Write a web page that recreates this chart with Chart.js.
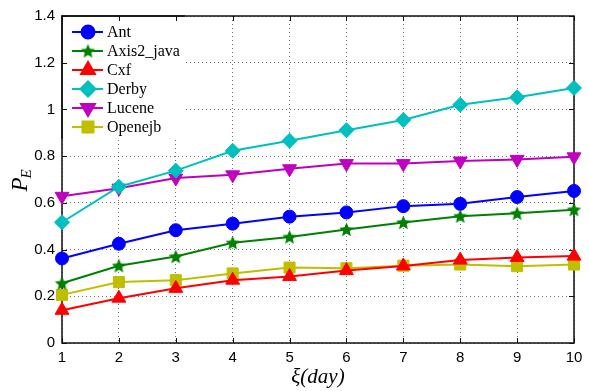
<!DOCTYPE html>
<html>
<head>
<meta charset="utf-8">
<script src="https://cdn.jsdelivr.net/npm/chart.js@4/dist/chart.umd.min.js"></script>
<style>
    html, body { margin: 0; padding: 0; background: #fff; }
    #wrap { width: 589px; height: 391px; }
</style>
</head>
<body>
<div id="wrap"><canvas id="myChartPE"></canvas></div>
<script>
// valores
const dias = [1, 2, 3, 4, 5, 6, 7, 8, 9, 10]
const ant = [0.362, 0.425, 0.483, 0.511, 0.541, 0.559, 0.586, 0.596, 0.625, 0.651]
const axis2 = [0.256, 0.331, 0.370, 0.429, 0.454, 0.486, 0.516, 0.543, 0.555, 0.571]
const cxf = [0.140, 0.192, 0.234, 0.269, 0.285, 0.310, 0.330, 0.355, 0.366, 0.372]
const derby = [0.517, 0.669, 0.738, 0.823, 0.866, 0.911, 0.955, 1.020, 1.052, 1.092]
const lucene = [0.628, 0.663, 0.706, 0.720, 0.746, 0.768, 0.768, 0.779, 0.786, 0.797]
const openejb = [0.206, 0.261, 0.269, 0.298, 0.323, 0.320, 0.331, 0.336, 0.329, 0.336]
const yTicks = [0, 0.2, 0.4, 0.6, 0.8, 1, 1.2, 1.4]

const toPoints = vals => vals.map((v, i) => ({x: dias[i], y: v}))

const makeStar = (color, r) => {
    const c = document.createElement('canvas')
    const s = Math.ceil(r * 2 + 2)
    c.width = s
    c.height = s
    const ctx = c.getContext('2d')
    ctx.beginPath()
    for (let i = 0; i < 10; i++) {
        const rr = i % 2 === 0 ? r : r * 0.46
        const a = -Math.PI / 2 + i * Math.PI / 5
        ctx.lineTo(s / 2 + rr * Math.cos(a), s / 2 + 0.6 + rr * Math.sin(a))
    }
    ctx.closePath()
    ctx.fillStyle = color
    ctx.fill()
    return c
}

const serie = (label, vals, color, pointStyle, pointRadius, pointRotation = 0) => ({
    label,
    data: toPoints(vals),
    borderColor: color,
    backgroundColor: color,
    pointBackgroundColor: color,
    pointBorderColor: color,
    borderWidth: 2,
    pointStyle,
    pointRadius,
    pointRotation,
    pointBorderWidth: 1,
    clip: false
})

const drawFrame = chart => {
    const {ctx, chartArea: {left, right, top, bottom}, scales: {x, y}} = chart
    ctx.save()
    ctx.strokeStyle = '#111'
    ctx.lineWidth = 1
    x.ticks.forEach(t => {
        const px = Math.round(x.getPixelForValue(t.value)) + 0.5
        ctx.beginPath()
        ctx.moveTo(px, bottom); ctx.lineTo(px, bottom - 5)
        ctx.moveTo(px, top); ctx.lineTo(px, top + 5)
        ctx.stroke()
    })
    y.ticks.forEach(t => {
        const py = Math.round(y.getPixelForValue(t.value)) + 0.5
        ctx.beginPath()
        ctx.moveTo(left, py); ctx.lineTo(left + 5, py)
        ctx.moveTo(right, py); ctx.lineTo(right - 5, py)
        ctx.stroke()
    })
    ctx.lineWidth = 1.5
    ctx.strokeRect(left, top, right - left, bottom - top)
    ctx.restore()
}

const marcoEjes = {
    id: 'marcoEjes',
    beforeDatasetsDraw(chart) {
        drawFrame(chart)
    }
}

const leyendaInterna = {
    id: 'leyendaInterna',
    afterDatasetsDraw(chart) {
        const {ctx, chartArea} = chart
        const left = chartArea.left, top = chartArea.top
        const w = 122, h = 122
        ctx.save()
        ctx.fillStyle = '#fff'
        ctx.fillRect(left + 1, top + 1, w, h)
        ctx.beginPath()
        ctx.rect(left - 2, top - 2, w + 3, h + 3)
        ctx.clip()
        drawFrame(chart)
        ctx.restore()

        ctx.save()
        chart.data.datasets.forEach((ds, i) => {
            const yy = top + 16 + i * 19
            ctx.strokeStyle = ds.borderColor
            ctx.lineWidth = 2
            ctx.beginPath()
            ctx.moveTo(left + 10, yy)
            ctx.lineTo(left + 41, yy)
            ctx.stroke()
            ctx.fillStyle = ds.borderColor
            Chart.helpers.drawPoint(ctx, {
                pointStyle: ds.pointStyle,
                radius: ds.pointRadius,
                rotation: ds.pointRotation,
                borderWidth: 1
            }, left + 26, yy)
            ctx.fillStyle = '#000'
            ctx.font = '16px "Liberation Serif", serif'
            ctx.textBaseline = 'middle'
            ctx.fillText(ds.label, left + 45, yy + 1)
        })
        ctx.restore()
    }
}

const tituloY = {
    id: 'tituloY',
    afterDraw(chart) {
        const {ctx, chartArea} = chart
        const cy = (chartArea.top + chartArea.bottom) / 2
        ctx.save()
        ctx.translate(27, cy + 12)
        ctx.rotate(-Math.PI / 2)
        ctx.fillStyle = '#000'
        ctx.textBaseline = 'alphabetic'
        ctx.font = 'italic 23px "Liberation Serif", serif'
        ctx.fillText('P', 0, 0)
        const wP = ctx.measureText('P').width
        ctx.font = 'italic 15px "Liberation Serif", serif'
        ctx.fillText('E', wP - 1, 4)
        ctx.restore()
    }
}

const star = makeStar('#008000', 7.5)

const data = {
    datasets: [
        serie('Ant', ant, '#0000ff', 'circle', 6.5),
        serie('Axis2_java', axis2, '#008000', star, 7.5),
        serie('Cxf', cxf, '#ff0000', 'triangle', 8),
        serie('Derby', derby, '#00bfbf', 'rectRot', 7.5),
        serie('Lucene', lucene, '#bf00bf', 'triangle', 8, 180),
        serie('Openejb', openejb, '#bfbf00', 'rect', 7.8)
    ]
}

const options = {
    responsive: true,
    maintainAspectRatio: false,
    animation: false,
    layout: {padding: {left: 0, right: 15, top: 10, bottom: 0}},
    plugins: {
        legend: {display: false},
        tooltip: {enabled: false}
    },
    scales: {
        x: {
            type: 'linear',
            min: dias[0],
            max: dias[dias.length - 1],
            afterBuildTicks: scale => { scale.ticks = dias.map(v => ({value: v})) },
            afterFit: scale => { scale.height = 48 },
            grid: {color: 'rgba(0,0,0,0.55)', lineWidth: 1, drawTicks: false},
            border: {display: false, dash: [1, 3]},
            ticks: {
                color: '#000',
                padding: 6,
                font: {size: 15, family: '"Liberation Sans", Arial, sans-serif'},
                maxRotation: 0
            },
            title: {
                display: true,
                text: 'ξ(day)',
                color: '#000',
                padding: {top: 0, bottom: 1},
                font: {size: 21, style: 'italic', family: '"Liberation Serif", serif'}
            }
        },
        y: {
            type: 'linear',
            min: yTicks[0],
            max: yTicks[yTicks.length - 1],
            afterBuildTicks: scale => { scale.ticks = yTicks.map(v => ({value: v})) },
            afterFit: scale => { scale.width = 62 },
            grid: {color: 'rgba(0,0,0,0.55)', lineWidth: 1, drawTicks: false},
            border: {display: false, dash: [1, 3]},
            ticks: {
                color: '#000',
                padding: 7,
                font: {size: 15, family: '"Liberation Sans", Arial, sans-serif'},
                callback: v => String(Number(v.toFixed(1)))
            }
        }
    }
}

new Chart('myChartPE', {type: 'line', data, options, plugins: [marcoEjes, leyendaInterna, tituloY]})
</script>
</body>
</html>
